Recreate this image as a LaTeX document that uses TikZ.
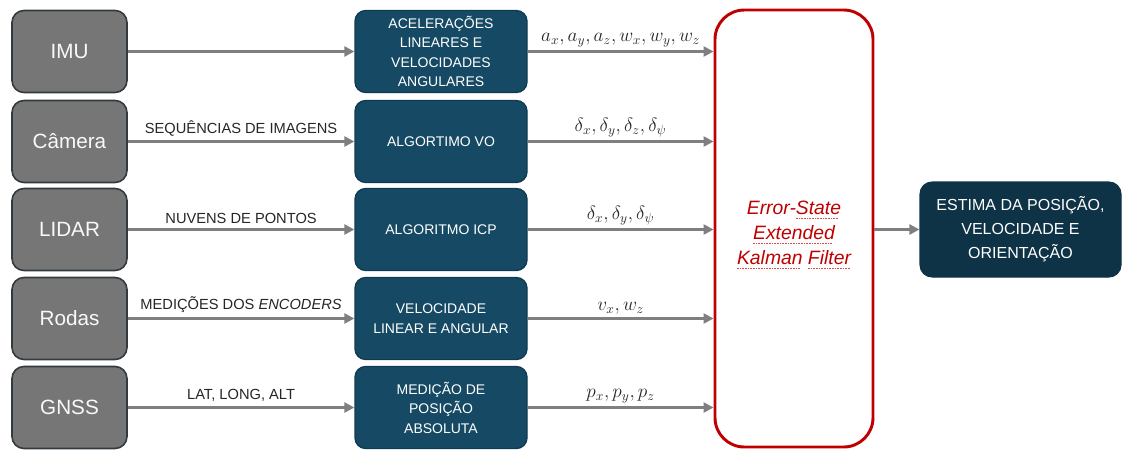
\documentclass[tikz,border=0pt]{standalone}
\usepackage{fontspec}
\setmainfont{Liberation Sans}
\usetikzlibrary{arrows.meta}
\definecolor{grayfill}{HTML}{767676}
\definecolor{grayedge}{HTML}{333B40}
\definecolor{bluefill}{HTML}{164A64}
\definecolor{blueedge}{HTML}{0F3B52}
\definecolor{outfill}{HTML}{0E3246}
\definecolor{kfred}{HTML}{C00000}
\definecolor{arrowgray}{HTML}{7F7F7F}
\definecolor{labeltext}{HTML}{262626}
\newsavebox\spellbox
\newcommand\spellwave[1]{\sbox\spellbox{#1}\rlap{\color{kfred!70}\hbox to \wd\spellbox{\leaders\hbox{\rule[-0.35ex]{1.2pt}{0.5pt}\kern0.8pt}\hfill}}\usebox\spellbox}
\tikzset{
  sensor/.style={draw=grayedge, line width=1.2pt, fill=grayfill, rounded corners=9pt,
    minimum width=86.25pt, minimum height=61.5pt, text=white!95!gray,
    font=\fontsize{15.5}{18}\selectfont},
  procbox/.style={draw=blueedge, line width=1pt, fill=bluefill, rounded corners=8pt,
    minimum width=129pt, minimum height=61.5pt, text=white, align=center,
    font=\fontsize{10.5}{14.6}\selectfont},
  kfbox/.style={draw=kfred, line width=2.2pt, fill=white, rounded corners=22pt,
    minimum width=118.5pt, minimum height=327.75pt, text=kfred, align=center,
    font=\fontsize{14.5}{18.75}\selectfont\itshape},
  outbox/.style={draw=outfill, line width=0.8pt, fill=outfill, rounded corners=9pt,
    minimum width=150.75pt, minimum height=71.25pt, text=white, align=center,
    font=\fontsize{12}{18}\selectfont},
  flow/.style={draw=arrowgray, line width=1.8pt, -{Triangle[length=7.5pt,width=7.5pt]}},
  inlabel/.style={text=labeltext, font=\fontsize{11}{13}\selectfont, inner sep=0pt},
  mathlabel/.style={text=labeltext, font=\fontsize{14}{16}\selectfont, inner sep=0pt}
}
\begin{document}
\begin{tikzpicture}[x=0.75pt,y=-0.75pt]
\useasboundingbox (0,0) rectangle (1123,450);
% sensors
\node[sensor] (imu) at (69.5,51.5) {IMU};
\node[sensor] (cam) at (69.5,141.5) {Câmera};
\node[sensor] (lidar) at (69.5,229.5) {LIDAR};
\node[sensor] (rodas) at (69.5,318.5) {Rodas};
\node[sensor] (gnss) at (69.5,407.5) {GNSS};
% processing
\node[procbox] (p1) at (441,51.5) {ACELERAÇÕES\\LINEARES E\\VELOCIDADES\\ANGULARES};
\node[procbox] (p2) at (441,141.5) {ALGORTIMO VO};
\node[procbox] (p3) at (441,229.5) {ALGORITMO ICP};
\node[procbox] (p4) at (441,318.5) {VELOCIDADE\\LINEAR E ANGULAR};
\node[procbox] (p5) at (441,407.5) {MEDIÇÃO DE\\POSIÇÃO\\ABSOLUTA};
% filter
\node[kfbox] (kf) at (794,228.5) {\rule{0pt}{19.5pt}Error-\spellwave{State}\\\spellwave{Extended}\\\spellwave{Kalman} \spellwave{Filter}};
% output
\node[outbox] (out) at (1020.5,229.5) {ESTIMA DA POSIÇÃO,\\VELOCIDADE E\\ORIENTAÇÃO};
% sensor -> processing
\draw[flow] (imu.east) -- (p1.west);
\draw[flow] (cam.east) -- node[inlabel, above=3pt] {SEQUÊNCIAS DE IMAGENS} (p2.west);
\draw[flow] (lidar.east) -- node[inlabel, above=3.5pt] {NUVENS DE PONTOS} (p3.west);
\draw[flow] (rodas.east) -- node[inlabel, above=3.5pt] {MEDIÇÕES DOS \textit{ENCODERS}} (p4.west);
\draw[flow] (gnss.east) -- node[inlabel, above=3.5pt] {LAT, LONG, ALT} (p5.west);
% processing -> filter
\coordinate (k1) at (kf.west |- p1.east);
\coordinate (k2) at (kf.west |- p2.east);
\coordinate (k3) at (kf.west |- p3.east);
\coordinate (k4) at (kf.west |- p4.east);
\coordinate (k5) at (kf.west |- p5.east);
\draw[flow] (p1.east) -- node[mathlabel, above=2.5pt] {$a_x, a_y, a_z, w_x, w_y, w_z$} (k1);
\draw[flow] (p2.east) -- node[mathlabel, above=2.5pt] {$\delta_x, \delta_y, \delta_z, \delta_\psi$} (k2);
\draw[flow] (p3.east) -- node[mathlabel, above=2.5pt] {$\delta_x, \delta_y, \delta_\psi$} (k3);
\draw[flow] (p4.east) -- node[mathlabel, above=2.5pt] {$v_x, w_z$} (k4);
\draw[flow] (p5.east) -- node[mathlabel, above=2.5pt] {$p_x, p_y, p_z$} (k5);
% filter -> output
\draw[flow] (kf.east |- out.west) -- (out.west);
\end{tikzpicture}
\end{document}
